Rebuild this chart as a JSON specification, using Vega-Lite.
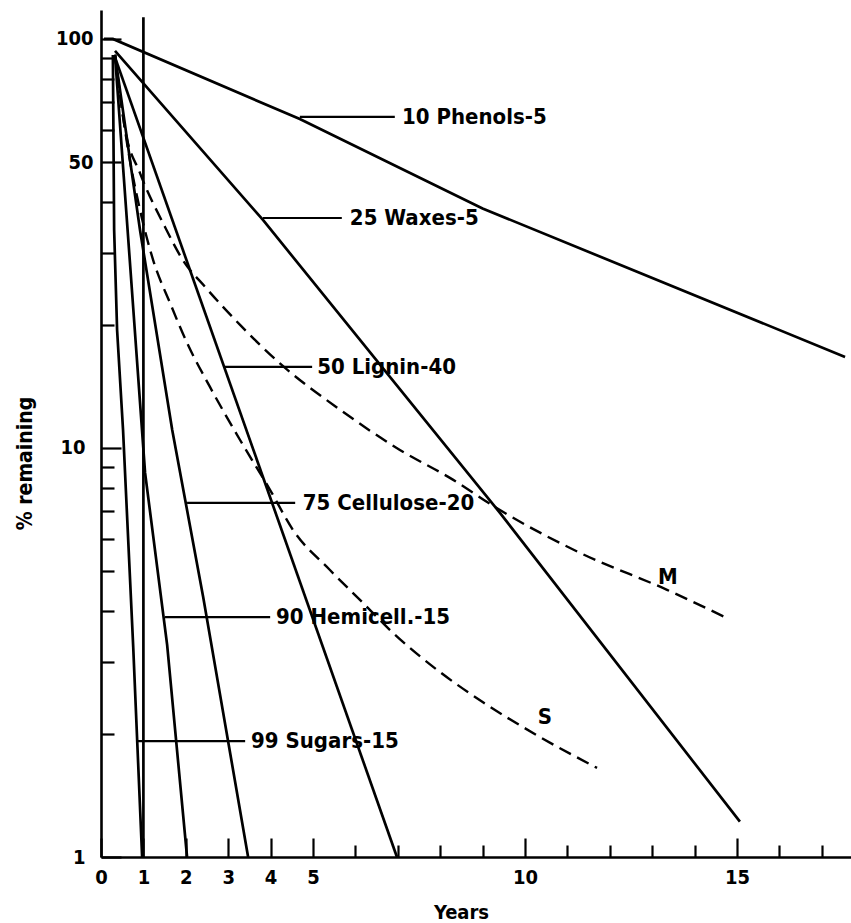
{
  "$schema": "https://vega.github.io/schema/vega-lite/v6.json",
  "width": 750,
  "height": 847,
  "autosize": {"type": "none"},
  "padding": {"left": 101, "top": 10, "right": 0, "bottom": 66},
  "background": "white",
  "config": {
    "view": {"stroke": null},
    "font": "DejaVu Sans Condensed, DejaVu Sans",
    "axis": {"grid": false, "domainColor": "black", "domainWidth": 2.6, "tickColor": "black", "tickWidth": 2.2, "labelColor": "black", "titleColor": "black", "labelFont": "DejaVu Sans Condensed, DejaVu Sans", "titleFont": "DejaVu Sans Condensed, DejaVu Sans", "labelFontWeight": "bold"}
  },
  "datasets": {
    "curves": [
      {"c": "Phenols", "t": "solid", "x": 0.07, "y": 100},
      {"c": "Phenols", "t": "solid", "x": 0.28, "y": 100},
      {"c": "Phenols", "t": "solid", "x": 4.69, "y": 63.7},
      {"c": "Phenols", "t": "solid", "x": 9.0, "y": 38.5},
      {"c": "Phenols", "t": "solid", "x": 17.55, "y": 16.7},
      {"c": "Waxes", "t": "solid", "x": 0.33, "y": 93.5},
      {"c": "Waxes", "t": "solid", "x": 3.82, "y": 36.1},
      {"c": "Waxes", "t": "solid", "x": 9.41, "y": 6.94},
      {"c": "Waxes", "t": "solid", "x": 15.07, "y": 1.22},
      {"c": "Lignin", "t": "solid", "x": 0.31, "y": 91.4},
      {"c": "Lignin", "t": "solid", "x": 6.98, "y": 1.0},
      {"c": "Cellulose", "t": "solid", "x": 0.33, "y": 91.4},
      {"c": "Cellulose", "t": "solid", "x": 0.92, "y": 34.1},
      {"c": "Cellulose", "t": "solid", "x": 1.68, "y": 11.07},
      {"c": "Cellulose", "t": "solid", "x": 2.41, "y": 4.32},
      {"c": "Cellulose", "t": "solid", "x": 3.47, "y": 1.0},
      {"c": "Hemicell", "t": "solid", "x": 0.33, "y": 91.4},
      {"c": "Hemicell", "t": "solid", "x": 1.04, "y": 8.69},
      {"c": "Hemicell", "t": "solid", "x": 1.56, "y": 3.3},
      {"c": "Hemicell", "t": "solid", "x": 2.03, "y": 1.0},
      {"c": "Sugars", "t": "solid", "x": 0.28, "y": 91.4},
      {"c": "Sugars", "t": "solid", "x": 0.31, "y": 34.1},
      {"c": "Sugars", "t": "solid", "x": 0.38, "y": 19.4},
      {"c": "Sugars", "t": "solid", "x": 0.52, "y": 11.07},
      {"c": "Sugars", "t": "solid", "x": 0.76, "y": 3.26},
      {"c": "Sugars", "t": "solid", "x": 0.97, "y": 1.0},
      {"c": "OneYear", "t": "solid", "x": 1.0, "y": 113},
      {"c": "OneYear", "t": "solid", "x": 1.0, "y": 1.0},
      {"c": "M", "t": "dash", "x": 0.33, "y": 91.4},
      {"c": "M", "t": "dash", "x": 0.57, "y": 59.9},
      {"c": "M", "t": "dash", "x": 0.92, "y": 47.0},
      {"c": "M", "t": "dash", "x": 1.51, "y": 34.7},
      {"c": "M", "t": "dash", "x": 1.93, "y": 28.8},
      {"c": "M", "t": "dash", "x": 2.45, "y": 24.8},
      {"c": "M", "t": "dash", "x": 3.28, "y": 20.0},
      {"c": "M", "t": "dash", "x": 4.22, "y": 16.1},
      {"c": "M", "t": "dash", "x": 5.64, "y": 12.4},
      {"c": "M", "t": "dash", "x": 7.05, "y": 9.89},
      {"c": "M", "t": "dash", "x": 8.23, "y": 8.45},
      {"c": "M", "t": "dash", "x": 9.41, "y": 7.05},
      {"c": "M", "t": "dash", "x": 11.3, "y": 5.54},
      {"c": "M", "t": "dash", "x": 13.35, "y": 4.5},
      {"c": "M", "t": "dash", "x": 14.76, "y": 3.84},
      {"c": "S", "t": "dash", "x": 0.33, "y": 91.4},
      {"c": "S", "t": "dash", "x": 0.64, "y": 53.5},
      {"c": "S", "t": "dash", "x": 0.92, "y": 38.2},
      {"c": "S", "t": "dash", "x": 1.23, "y": 28.8},
      {"c": "S", "t": "dash", "x": 1.63, "y": 22.6},
      {"c": "S", "t": "dash", "x": 2.03, "y": 18.06},
      {"c": "S", "t": "dash", "x": 2.57, "y": 14.1},
      {"c": "S", "t": "dash", "x": 3.28, "y": 10.46},
      {"c": "S", "t": "dash", "x": 3.99, "y": 7.89},
      {"c": "S", "t": "dash", "x": 4.53, "y": 6.3},
      {"c": "S", "t": "dash", "x": 5.4, "y": 5.03},
      {"c": "S", "t": "dash", "x": 6.18, "y": 4.18},
      {"c": "S", "t": "dash", "x": 6.89, "y": 3.53},
      {"c": "S", "t": "dash", "x": 8.0, "y": 2.83},
      {"c": "S", "t": "dash", "x": 9.01, "y": 2.39},
      {"c": "S", "t": "dash", "x": 10.35, "y": 1.966},
      {"c": "S", "t": "dash", "x": 11.7, "y": 1.651}
    ],
    "leaders": [
      {"label": "10 Phenols-5", "x": 4.69, "x2": 6.93, "y": 64.5, "tx": 7.1},
      {"label": "25 Waxes-5", "x": 3.82, "x2": 5.68, "y": 36.5, "tx": 5.87},
      {"label": "50 Lignin-40", "x": 2.88, "x2": 4.98, "y": 15.78, "tx": 5.1},
      {"label": "75 Cellulose-20", "x": 2.03, "x2": 4.58, "y": 7.34, "tx": 4.76},
      {"label": "90 Hemicell.-15", "x": 1.51, "x2": 3.99, "y": 3.86, "tx": 4.13},
      {"label": "99 Sugars-15", "x": 0.87, "x2": 3.4, "y": 1.92, "tx": 3.54}
    ],
    "tags": [
      {"label": "M", "x": 13.37, "y": 4.84},
      {"label": "S", "x": 10.47, "y": 2.2}
    ]
  },
  "layer": [
    {
      "data": {"name": "curves"},
      "transform": [{"filter": "datum.t === 'solid'"}],
      "mark": {"type": "line", "color": "black", "strokeWidth": 2.7},
      "encoding": {
        "x": {
          "field": "x", "type": "quantitative",
          "scale": {"domain": [0, 17.69], "nice": false, "zero": false},
          "axis": {
            "values": [0, 1, 2, 3, 4, 5, 6, 7, 8, 9, 10, 11, 12, 13, 14, 15, 16, 17],
            "labelExpr": "indexof([0,1,2,3,4,5,10,15], datum.value) >= 0 ? format(datum.value, 'd') : ''",
            "tickSize": {"condition": {"test": "datum.value <= 5 || datum.value % 5 === 0", "value": -19}, "value": -12},
            "labelPadding": 29,
            "labelFontSize": 20,
            "labelFlush": false,
            "title": "Years",
            "titleFontSize": 20,
            "titleFontWeight": "bold",
            "titleX": 360,
            "titleY": 61,
            "titleBaseline": "alphabetic"
          }
        },
        "y": {
          "field": "y", "type": "quantitative",
          "scale": {"type": "log", "domain": [1, 117.7], "nice": false},
          "axis": {
            "values": [1, 2, 3, 4, 5, 6, 7, 8, 9, 10, 20, 30, 40, 50, 60, 70, 80, 90, 100],
            "labelExpr": "indexof([1,10,50,100], datum.value) >= 0 ? format(datum.value, 'd') : ''",
            "tickSize": {"condition": {"test": "indexof([1,10,50,100], datum.value) >= 0", "value": -20}, "value": -13},
            "labelPadding": {"condition": {"test": "datum.value <= 10", "value": 36}, "value": 28},
            "labelFontSize": 20,
            "labelFlush": false,
            "title": "% remaining",
            "titleFontSize": 21,
            "titleFontWeight": "bold",
            "titleX": -70,
            "titleY": 453,
            "titleAlign": "center",
            "titleBaseline": "alphabetic"
          }
        },
        "detail": {"field": "c"},
        "order": {"value": null}
      }
    },
    {
      "data": {"name": "curves"},
      "transform": [{"filter": "datum.t === 'dash'"}],
      "mark": {"type": "line", "color": "black", "strokeWidth": 2.4, "strokeDash": [13, 7], "interpolate": "monotone"},
      "encoding": {
        "x": {"field": "x", "type": "quantitative"},
        "y": {"field": "y", "type": "quantitative"},
        "detail": {"field": "c"},
        "order": {"value": null}
      }
    },
    {
      "data": {"name": "leaders"},
      "mark": {"type": "rule", "color": "black", "strokeWidth": 2.2},
      "encoding": {
        "x": {"field": "x", "type": "quantitative"},
        "x2": {"field": "x2"},
        "y": {"field": "y", "type": "quantitative"}
      }
    },
    {
      "data": {"name": "leaders"},
      "mark": {"type": "text", "align": "left", "baseline": "middle", "fontSize": 22, "fontWeight": "bold", "font": "DejaVu Sans Condensed, DejaVu Sans", "color": "black"},
      "encoding": {
        "x": {"field": "tx", "type": "quantitative"},
        "y": {"field": "y", "type": "quantitative"},
        "text": {"field": "label"}
      }
    },
    {
      "data": {"name": "tags"},
      "mark": {"type": "text", "align": "center", "baseline": "middle", "fontSize": 22, "fontWeight": "bold", "font": "DejaVu Sans Condensed, DejaVu Sans", "color": "black"},
      "encoding": {
        "x": {"field": "x", "type": "quantitative"},
        "y": {"field": "y", "type": "quantitative"},
        "text": {"field": "label"}
      }
    }
  ]
}
